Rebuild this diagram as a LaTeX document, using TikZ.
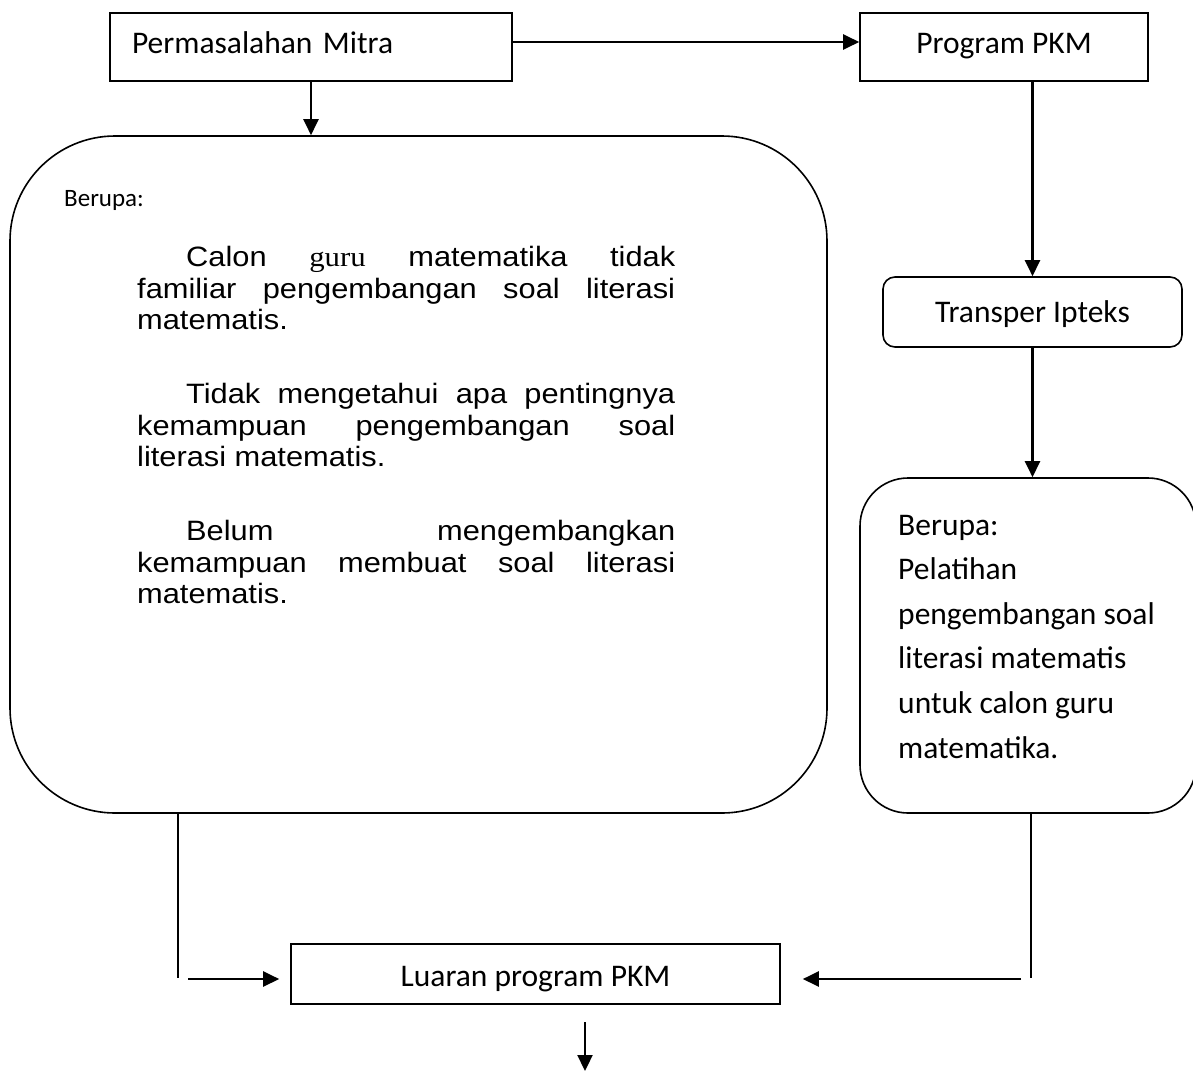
\documentclass[tikz,border=0pt]{standalone}
\usepackage{fontspec}
\newfontfamily\calfont{Carlito}
\newfontfamily\arifont[FakeStretch=1.1]{Liberation Sans}
\newfontfamily\timfont[FakeStretch=1.1]{Liberation Serif}
\usetikzlibrary{arrows.meta}
\begin{document}
\begin{tikzpicture}[x=1pt,y=-1pt,
  box/.style={draw, line width=1.6pt, inner sep=0pt, font=\calfont\fontsize{31.5}{38}\selectfont},
  arr/.style={line width=2.2pt, -{Triangle[length=16pt,width=15pt]}},
  ln/.style={line width=1.8pt},
  para/.style={anchor=base west, inner sep=0pt, font=\arifont\fontsize{28}{31.5}\selectfont},
  rtxt/.style={anchor=base west, inner sep=0pt, font=\calfont\fontsize{31.5}{44}\selectfont},
  small/.style={anchor=base west, inner sep=0pt, font=\calfont\fontsize{25}{30}\selectfont}]
\useasboundingbox (0,0) rectangle (1193,1071);
% boxes
\node[box, minimum width=402pt, minimum height=68pt, text width=358pt, align=left, inner xsep=22pt, text height=20pt, text depth=8pt] (perm) at (311,47) {Permasalahan Mitra};
\node[box, minimum width=288pt, minimum height=68pt, text height=20pt, text depth=8pt] (prog) at (1004,47) {Program PKM};
\node[box, rounded corners=105pt, minimum width=817pt, minimum height=677pt] (big) at (418.5,474.5) {};
\node[box, rounded corners=12pt, minimum width=299pt, minimum height=70pt, text height=20pt, text depth=0pt] (trans) at (1032.5,312) {Transper Ipteks};
\node[box, rounded corners=48pt, minimum width=336pt, minimum height=335pt] (rbox) at (1028,645.5) {};
\node[box, minimum width=489pt, minimum height=60pt, text height=24pt, text depth=0pt] (out) at (535.5,974) {Luaran program PKM};
% left box text
\node[small] (ber1) at (64,206) {Berupa:};
\node[para] (p1a) at (186,266) {\makebox[489pt][s]{Calon {\timfont guru} matematika tidak}};
\node[para] (p1b) at (137,298) {\makebox[538pt][s]{familiar pengembangan soal literasi}};
\node[para] (p1c) at (137,329.5) {matematis.};
\node[para] (p2a) at (186,403) {\makebox[489pt][s]{Tidak mengetahui apa pentingnya}};
\node[para] (p2b) at (137,435) {\makebox[538pt][s]{kemampuan pengembangan soal}};
\node[para] (p2c) at (137,466.5) {literasi matematis.};
\node[para] (p3a) at (186,540) {\makebox[489pt][s]{Belum mengembangkan}};
\node[para] (p3b) at (137,572) {\makebox[538pt][s]{kemampuan membuat soal literasi}};
\node[para] (p3c) at (137,603.5) {matematis.};
% right box text
\node[rtxt] (r1) at (898,535) {Berupa:};
\node[rtxt] (r2) at (898,579.6) {Pelatihan};
\node[rtxt] (r3) at (898,624.2) {pengembangan soal};
\node[rtxt] (r4) at (898,668.8) {literasi matematis};
\node[rtxt] (r5) at (898,713.4) {untuk calon guru};
\node[rtxt] (r6) at (898,758) {matematika.};
% connectors
\draw[arr] ([yshift=5pt]perm.east) -- ([yshift=5pt]prog.west);
\draw[arr] (perm.south) -- (perm.south |- big.north);
\draw[arr] (trans.north |- prog.south) -- (trans.north);
\draw[arr] (trans.south) -- (trans.south |- rbox.north);
\coordinate (lbend) at (178,978);
\coordinate (lstart) at (188,979);
\draw[ln] (lbend |- big.south) -- (lbend);
\draw[arr, shorten >=11pt] (lstart) -- (lstart -| out.west);
\coordinate (rbend) at (1031,978);
\coordinate (rstart) at (1021,979);
\draw[ln] (rbend |- rbox.south) -- (rbend);
\draw[arr, shorten >=22pt] (rstart) -- (rstart -| out.east);
\coordinate (dstart) at (585,1022);
\coordinate (dend) at (585,1071);
\draw[arr] (dstart) -- (dend);
\end{tikzpicture}
\end{document}
